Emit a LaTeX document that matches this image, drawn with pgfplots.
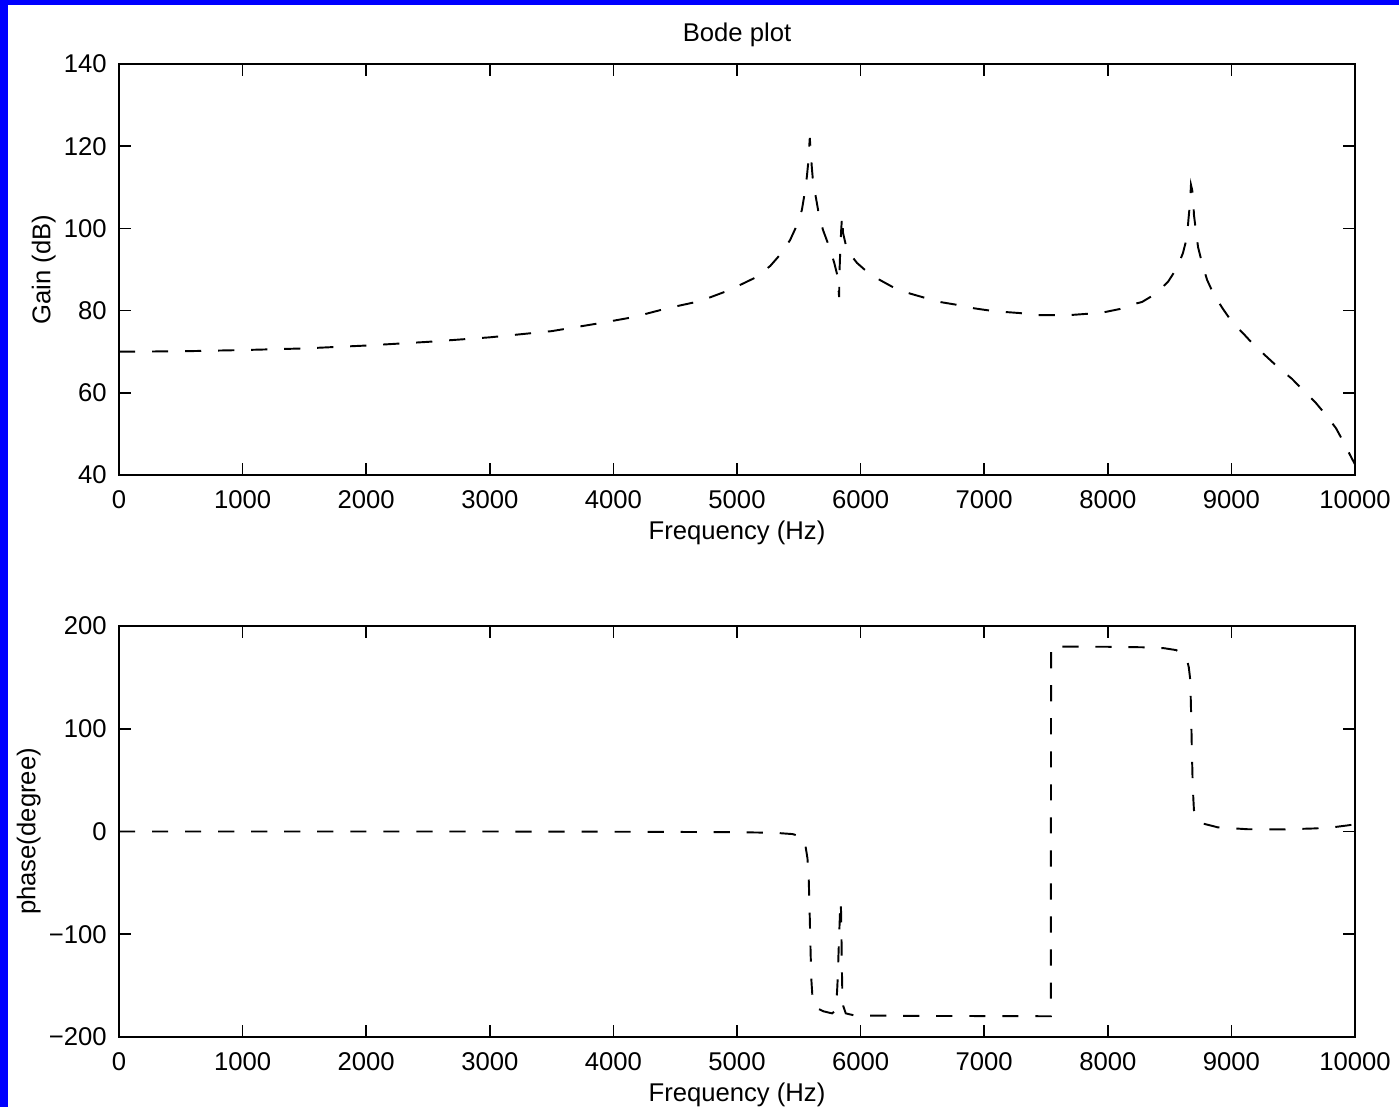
\documentclass[border=0pt]{standalone}
\usepackage{fontspec}
\setmainfont{Liberation Sans}
\usepackage{pgfplots}
\pgfplotsset{compat=1.18}

\pgfplotstableread{
f G
0 70.0
500 70.1
1000 70.4
1500 70.8
2000 71.5
2500 72.4
3000 73.5
3500 75.0
3900 77.0
4160 78.4
4440 80.6
4700 82.3
4940 85.0
5160 88.2
5270 90.9
5360 94.0
5430 97.2
5485 100.8
5525 104.5
5545 108.1
5565 112.5
5577 116.2
5584 119.8
5589 122.0
5597 118.5
5605 115.0
5615 111.4
5639 107.4
5663 103.3
5696 99.6
5744 95.7
5785 91.8
5817 88.0
5823 84.5
5826 83.3
5830 90.0
5836 95.2
5843 99.6
5850 103.0
5858 98.9
5890 94.7
5971 91.6
6050 89.5
6141 87.7
6262 85.7
6383 84.3
6521 83.1
6642 82.1
6780 81.4
6909 80.6
7023 80.1
7152 79.7
7290 79.4
7427 78.9
7557 78.9
7686 78.9
7824 79.2
7953 79.5
8099 80.4
8200 81.5
8277 82.1
8382 84.0
8487 87.0
8560 90.4
8608 94.0
8641 97.9
8652 102.0
8665 106.2
8673 110.6
8683 109.3
8690 107.6
8697 103.3
8714 99.1
8730 95.5
8762 91.6
8803 87.5
8859 83.8
8932 80.4
9010 77.0
9094 74.5
9183 71.6
9288 68.7
9385 66.0
9490 63.4
9579 60.7
9676 57.8
9765 54.6
9846 51.4
9911 47.8
9968 44.4
10000 42.6
}\gaintable

\pgfplotstableread{
f P
0 0
1000 0
2000 0
3000 0
4000 -0.2
4500 -0.4
5000 -0.7
5300 -1.2
5450 -2.5
5520 -5
5550 -11
5570 -26
5580 -45
5586 -70
5591 -95
5596 -120
5602 -145
5610 -160
5625 -168
5647 -172
5700 -175
5769 -177
5790 -175
5802 -168
5810 -155
5816 -140
5821 -120
5827 -100
5833 -80
5838 -68
5842 -78
5845 -100
5848 -130
5852 -155
5860 -170
5880 -177
5950 -179
6500 -179.5
7000 -179.6
7539 -179.8
7541 180
7600 180
8000 179.8
8285 179.3
8450 178.5
8552 176.6
8600 173.5
8641 167
8655 160
8665 150
8670 135
8675 110
8680 80
8686 50
8692 32
8697 21
8710 15
8730 11
8762 8
8892 4
9134 2.2
9400 2
9676 3
9814 4
9943 6
10000 7
}\phasetable

\pgfplotsset{
  bodeax/.style={
    scale only axis,
    anchor=south west,
    width=12.36cm, height=4.11cm,
    xmin=0, xmax=10000,
    scaled x ticks=false,
    scaled y ticks=false,
    xtick={0,1000,...,10000},
    xticklabels={0,1000,2000,3000,4000,5000,6000,7000,8000,9000,10000},
    xticklabel style={yshift=-0.8pt},
    tick align=inside,
    major tick length=0.12cm,
    axis line style={line width=0.6pt},
    every tick/.style={line width=0.5pt, black},
    font=\fontsize{7.3}{8.8}\selectfont,
    xlabel={Frequency (Hz)},
    xlabel style={yshift=3.2pt},
    ylabel style={yshift=-0.16cm},
  },
  bodeline/.style={black, line width=0.55pt, dash pattern=on 4.6pt off 4.8pt, no marks},
}

\begin{document}
\begin{tikzpicture}
\useasboundingbox (0,0) rectangle (13.99,11.07);
\fill[blue] (0,11.02) rectangle (13.99,11.07);
\fill[blue] (0,0) rectangle (0.08,11.07);

\begin{axis}[bodeax,
  at={(1.19cm,6.32cm)},
  ymin=40, ymax=140,
  ytick={40,60,...,140},
  yticklabels={40,60,80,100,120,140},
  ylabel={Gain (dB)},
  title={Bode plot},
  title style={yshift=-0.16cm},
]
\addplot[bodeline] table[x=f, y=G] {\gaintable};
\end{axis}

\begin{axis}[bodeax,
  at={(1.19cm,0.70cm)},
  ymin=-200, ymax=200,
  ytick={-200,-100,0,100,200},
  yticklabels={−200,−100,0,100,200},
  ylabel={phase(degree)},
]
\addplot[bodeline] table[x=f, y=P] {\phasetable};
\end{axis}
\end{tikzpicture}
\end{document}
